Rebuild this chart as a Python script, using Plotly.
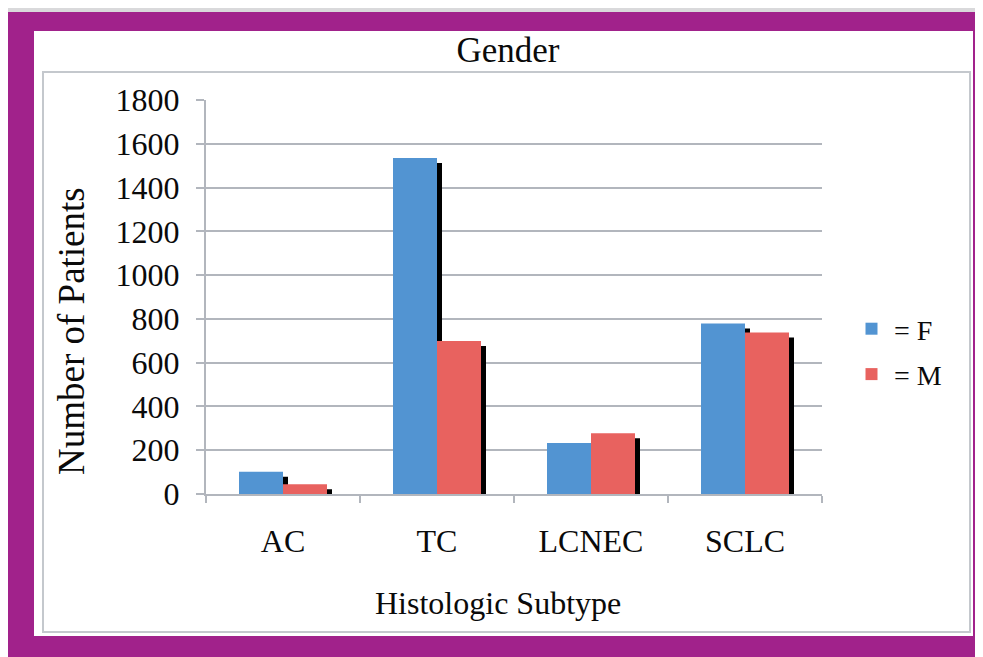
import plotly.graph_objects as go

categories = ["AC", "TC", "LCNEC", "SCLC"]
female = [102, 1535, 233, 779]
male = [44, 699, 277, 738]
y_ticks = [0, 200, 400, 600, 800, 1000, 1200, 1400, 1600, 1800]

W, H = 983, 657
SHIFT = 8  # browser default body margin
L, R, T, B = 206 - SHIFT, 822 - SHIFT, 100 - SHIFT, 494 - SHIFT  # plot area in figure pixels
PW, PH = R - L, B - T
YMAX = 1800

def px_x(px):
    return (px - SHIFT - L) / PW

def px_y(py):
    return (B - (py - SHIFT)) / PH

bar_w = 44 / (PW / len(categories))          # bar width in category units
sh_dx = 5 / (PW / len(categories))           # shadow horizontal offset
sh_dy = 5 / (PH / YMAX)                      # shadow vertical offset in data units

FONT = "Liberation Serif, Times New Roman, serif"
TXT = "#0a0a0a"
BLUE = "#5294d2"
RED = "#e8625f"

fig = go.Figure()

# shadows (drawn first)
for vals, off in ((female, -bar_w), (male, 0.0)):
    fig.add_trace(go.Bar(
        x=categories, y=[max(v - sh_dy, 0) for v in vals],
        offset=off + sh_dx, width=bar_w,
        marker=dict(color="#000000", line=dict(width=0)),
        showlegend=False, hoverinfo="skip",
    ))

fig.add_trace(go.Bar(
    x=categories, y=female, name="= F", offset=-bar_w, width=bar_w,
    marker=dict(color=BLUE, line=dict(width=0)), legendgroup="F",
))
fig.add_trace(go.Bar(
    x=categories, y=male, name="= M", offset=0.0, width=bar_w,
    marker=dict(color=RED, line=dict(width=0)), legendgroup="M",
))

GRID = "#b2b6bd"

shapes = [
    # purple frame
    dict(type="rect", xref="paper", yref="paper", layer="below",
         x0=px_x(8), x1=px_x(1000), y0=px_y(12), y1=px_y(680),
         fillcolor="#a1228b", line=dict(width=0)),
    # white panel
    dict(type="rect", xref="paper", yref="paper", layer="below",
         x0=px_x(34), x1=px_x(973), y0=px_y(31), y1=px_y(636),
         fillcolor="#ffffff", line=dict(width=0)),
    # chart box border
    dict(type="rect", xref="paper", yref="paper", layer="below",
         x0=px_x(43), x1=px_x(970), y0=px_y(72), y1=px_y(632),
         fillcolor="rgba(0,0,0,0)", line=dict(color="#c4c8cd", width=2)),
]

annotations = [
    dict(text="Number of Patients", xref="paper", yref="paper",
         x=px_x(71), y=px_y(331), textangle=-90, showarrow=False,
         xanchor="center", yanchor="middle",
         font=dict(family=FONT, size=37, color=TXT)),
    dict(text="Histologic Subtype", xref="paper", yref="paper",
         x=px_x(498), y=px_y(603), showarrow=False,
         xanchor="center", yanchor="middle",
         font=dict(family=FONT, size=32, color=TXT)),
]

fig.update_layout(
    width=W, height=H,
    margin=dict(l=L, r=W - R, t=T, b=H - B, pad=0),
    paper_bgcolor="#d9d9db",
    plot_bgcolor="rgba(0,0,0,0)",
    barmode="overlay",
    title=dict(text="Gender", x=(508 - SHIFT) / W, xanchor="center",
               y=1 - (50 - SHIFT) / H, yanchor="middle", xref="container", yref="container",
               font=dict(family=FONT, size=35, color=TXT)),
    font=dict(family=FONT, color=TXT),
    showlegend=True,
    legend=dict(x=px_x(849), y=px_y(304), xanchor="left", yanchor="top",
                font=dict(family=FONT, size=28, color=TXT),
                bgcolor="rgba(0,0,0,0)", tracegroupgap=6, itemwidth=35,
                traceorder="grouped"),
    shapes=shapes,
    annotations=annotations,
    xaxis=dict(
        categoryorder="array", categoryarray=categories,
        range=[-0.5, len(categories) - 0.5],
        showgrid=False, showline=True, linecolor=GRID, linewidth=2,
        ticks="outside", tickson="boundaries", ticklen=7, tickcolor=GRID, tickwidth=2,
        tickfont=dict(family=FONT, size=32, color=TXT),
        ticklabelstandoff=18,
        zeroline=False, fixedrange=True,
    ),
    yaxis=dict(
        range=[0, YMAX], tickvals=y_ticks, ticktext=[str(v) for v in y_ticks],
        showgrid=True, gridcolor=GRID, gridwidth=2,
        showline=True, linecolor=GRID, linewidth=2,
        ticks="outside", ticklen=8, tickcolor=GRID, tickwidth=2,
        tickfont=dict(family=FONT, size=32, color=TXT),
        ticklabelstandoff=10,
        zeroline=False, fixedrange=True,
    ),
)

fig.write_html("out.html")
